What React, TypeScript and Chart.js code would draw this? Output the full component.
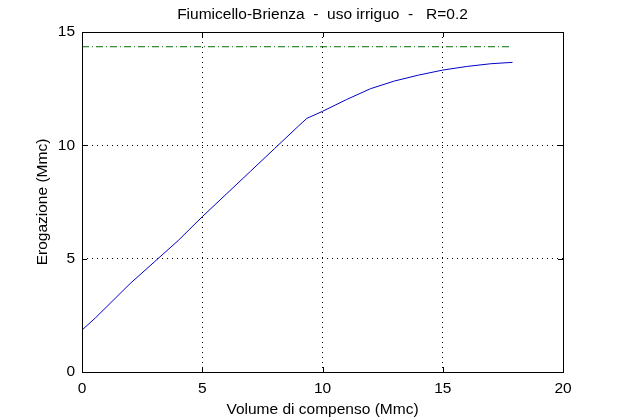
import React, { useEffect, useRef } from "react";
import { Chart, registerables } from "chart.js";

Chart.register(...registerables);

const titleText = "Fiumicello-Brienza  -  uso irriguo  -   R=0.2";
const xLabel = "Volume di compenso (Mmc)";
const yLabel = "Erogazione (Mmc)";

const volume = [0, 0.55, 1, 2, 3, 4, 5, 6, 7, 8, 9, 9.35, 10, 11, 12, 13, 14, 15, 16, 17, 17.9];
const erogazione = [1.85, 2.38, 2.85, 3.9, 4.85, 5.8, 6.85, 7.85, 8.85, 9.85, 10.85, 11.19, 11.5, 12.02, 12.5, 12.84, 13.1, 13.32, 13.48, 13.6, 13.66];

const limitX = [0, 17.8];
const limitY = [14.35, 14.35];

const xTicks = [0, 5, 10, 15, 20];
const yTicks = [0, 5, 10, 15];

const FONT = "'Liberation Sans', Arial, sans-serif";

const framePlugin = {
  id: "frame",
  afterDraw(chart: any) {
    const { ctx, chartArea } = chart;
    const xs = chart.scales.x;
    const ys = chart.scales.y;
    ctx.save();
    ctx.strokeStyle = "#000";
    ctx.lineWidth = 1;
    ctx.strokeRect(
      Math.round(chartArea.left) + 0.5,
      Math.round(chartArea.top) + 0.5,
      Math.round(chartArea.right - chartArea.left),
      Math.round(chartArea.bottom - chartArea.top)
    );
    const tl = 5;
    ctx.beginPath();
    for (const v of xTicks) {
      const px = Math.round(xs.getPixelForValue(v)) + 0.5;
      ctx.moveTo(px, chartArea.bottom);
      ctx.lineTo(px, chartArea.bottom - tl);
      ctx.moveTo(px, chartArea.top);
      ctx.lineTo(px, chartArea.top + tl);
    }
    for (const v of yTicks) {
      const py = Math.round(ys.getPixelForValue(v)) + 0.5;
      ctx.moveTo(chartArea.left, py);
      ctx.lineTo(chartArea.left + tl, py);
      ctx.moveTo(chartArea.right, py);
      ctx.lineTo(chartArea.right - tl, py);
    }
    ctx.stroke();
    ctx.fillStyle = "#000";
    ctx.font = `15.5px ${FONT}`;
    ctx.textAlign = "center";
    ctx.textBaseline = "middle";
    ctx.fillText(titleText, (chartArea.left + chartArea.right) / 2, 15);
    ctx.restore();
  },
};

export default function App() {
  const ref = useRef<HTMLCanvasElement>(null);
  useEffect(() => {
    const chart = new Chart(ref.current!, {
      type: "scatter",
      data: {
        datasets: [
          {
            data: volume.map((v, i) => ({ x: v, y: erogazione[i] })),
            showLine: true,
            borderColor: "#0000c8",
            borderWidth: 1,
            pointRadius: 0,
            tension: 0,
          },
          {
            data: limitX.map((v, i) => ({ x: v, y: limitY[i] })),
            showLine: true,
            borderColor: "#007000",
            borderWidth: 1,
            borderDash: [7, 3, 1, 3],
            pointRadius: 0,
          },
        ],
      },
      options: {
        animation: false,
        responsive: true,
        maintainAspectRatio: false,
        layout: { padding: { left: 0, right: 60, top: 32, bottom: 0 } },
        plugins: { legend: { display: false }, tooltip: { enabled: false }, title: { display: false } },
        scales: {
          x: {
            type: "linear",
            min: 0,
            max: 20,
            afterBuildTicks: (s: any) => {
              s.ticks = xTicks.map((v) => ({ value: v }));
            },
            afterFit: (s: any) => {
              s.height = 47;
            },
            grid: { color: "#000", drawTicks: false, lineWidth: 1 } as any,
            border: { display: false, dash: [1, 4] } as any,
            ticks: { color: "#000", padding: 7, font: { family: FONT, size: 15.5 }, maxRotation: 0 },
            title: {
              display: true,
              text: xLabel,
              color: "#000",
              font: { family: FONT, size: 15.5 },
              padding: { top: 0, bottom: 0 },
            },
          },
          y: {
            type: "linear",
            min: 0,
            max: 15,
            afterBuildTicks: (s: any) => {
              s.ticks = yTicks.map((v) => ({ value: v }));
            },
            afterFit: (s: any) => {
              s.width = 82;
            },
            grid: { color: "#000", drawTicks: false, lineWidth: 1 } as any,
            border: { display: false, dash: [1, 4] } as any,
            ticks: { color: "#000", padding: 7, font: { family: FONT, size: 15.5 } },
            title: {
              display: true,
              text: yLabel,
              color: "#000",
              font: { family: FONT, size: 15.5 },
              padding: { top: 33, bottom: 0 },
            },
          },
        },
      },
      plugins: [framePlugin],
    } as any);
    return () => chart.destroy();
  }, []);
  return (
    <div style={{ position: "fixed", left: 0, top: 0, width: 623, height: 419, background: "#fff" }}>
      <canvas ref={ref} />
    </div>
  );
}
